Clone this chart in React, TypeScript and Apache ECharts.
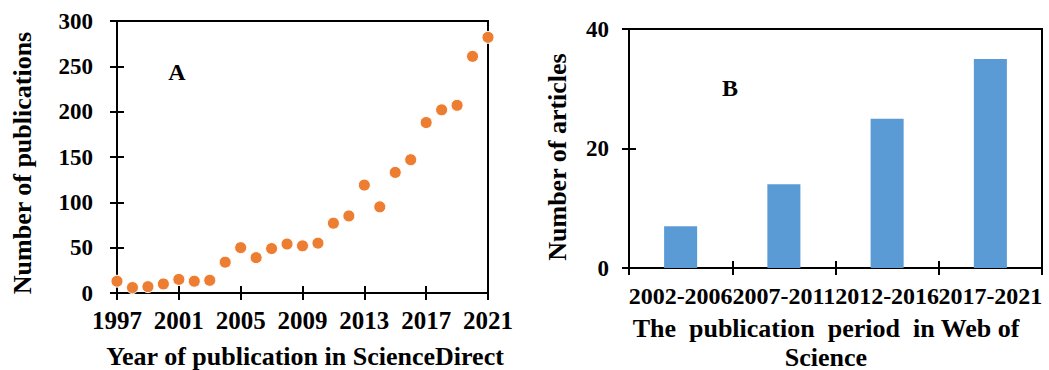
import React, { useEffect, useRef } from "react";
import * as echarts from "echarts";

const years = [
  "1997", "1998", "1999", "2000", "2001", "2002", "2003", "2004", "2005", "2006",
  "2007", "2008", "2009", "2010", "2011", "2012", "2013", "2014", "2015", "2016",
  "2017", "2018", "2019", "2020", "2021",
];
const publications = [
  13, 6, 7, 10, 15, 13, 14, 34, 50, 39,
  49, 54, 52, 55, 77, 85, 119, 95, 133, 147,
  188, 202, 207, 261, 282,
];
const periods = ["2002-2006", "2007-2011", "2012-2016", "2017-2021"];
const articles = [7, 14, 25, 35];

const FONT = "'Liberation Serif', 'Times New Roman', serif";
const ORANGE = "#ED7D31";
const BLUE = "#5B9BD5";

export default function App() {
  const ref = useRef<HTMLDivElement>(null);

  useEffect(() => {
    if (!ref.current) return;
    const chart = echarts.init(ref.current, undefined, { renderer: "svg" });

    const axisLine = { show: true, lineStyle: { color: "#000", width: 2 } };
    const tickStyle = { color: "#000", width: 2 };
    const labelStyle = { color: "#000", fontFamily: FONT, fontWeight: "bold" as const };

    const option: any = {
      animation: false,
      backgroundColor: "#fff",
      grid: [
        { left: 117, right: 561, top: 21, bottom: 77, show: true, borderColor: "#000", borderWidth: 2, backgroundColor: "transparent" },
        { left: 629, right: 7, top: 29, bottom: 102, show: true, borderColor: "#000", borderWidth: 2, backgroundColor: "transparent" },
      ],
      xAxis: [
        {
          gridIndex: 0, type: "category", data: years, boundaryGap: false,
          axisLine,
          axisTick: { show: true, interval: 3, length: 7, inside: false, lineStyle: tickStyle },
          axisLabel: { ...labelStyle, interval: 3, fontSize: 25, margin: 15, hideOverlap: false },
          splitLine: { show: false },
        },
        {
          gridIndex: 0, type: "category", data: years, boundaryGap: false, position: "bottom", offset: 0,
          axisLine: { show: false },
          axisTick: { show: true, interval: 3, length: 7, inside: true, lineStyle: tickStyle },
          axisLabel: { show: false },
          splitLine: { show: false },
        },
        {
          gridIndex: 1, type: "category", data: periods, boundaryGap: true,
          axisLine,
          axisTick: { show: true, length: 7, inside: false, lineStyle: tickStyle },
          axisLabel: { ...labelStyle, interval: 0, fontSize: 24, margin: 16, hideOverlap: false },
          splitLine: { show: false },
        },
        {
          gridIndex: 1, type: "category", data: periods, boundaryGap: true, position: "bottom", offset: 0,
          axisLine: { show: false },
          axisTick: { show: true, length: 7, inside: true, lineStyle: tickStyle },
          axisLabel: { show: false },
          splitLine: { show: false },
        },
      ],
      yAxis: [
        {
          gridIndex: 0, type: "value", min: 0, max: 300, interval: 50,
          axisLine,
          axisTick: { show: true, length: 7, inside: false, lineStyle: tickStyle },
          axisLabel: { ...labelStyle, fontSize: 23, margin: 24 },
          splitLine: { show: false },
        },
        {
          gridIndex: 0, type: "value", min: 0, max: 300, interval: 50, position: "left", offset: 0,
          axisLine: { show: false },
          axisTick: { show: true, length: 7, inside: true, lineStyle: tickStyle },
          axisLabel: { show: false },
          splitLine: { show: false },
        },
        {
          gridIndex: 1, type: "value", min: 0, max: 40, interval: 20,
          axisLine,
          axisTick: { show: true, length: 7, inside: false, lineStyle: tickStyle },
          axisLabel: { ...labelStyle, fontSize: 23, margin: 20 },
          splitLine: { show: false },
        },
        {
          gridIndex: 1, type: "value", min: 0, max: 40, interval: 20, position: "left", offset: 0,
          axisLine: { show: false },
          axisTick: { show: true, length: 7, inside: true, lineStyle: tickStyle },
          axisLabel: { show: false },
          splitLine: { show: false },
        },
      ],
      series: [
        {
          type: "scatter",
          xAxisIndex: 0,
          yAxisIndex: 0,
          data: publications,
          symbol: "circle",
          symbolSize: 12,
          clip: false,
          itemStyle: { color: ORANGE, borderColor: "#fff", borderWidth: 1, opacity: 1 },
        },
        {
          type: "bar",
          xAxisIndex: 2,
          yAxisIndex: 2,
          data: articles,
          barWidth: "32%",
          itemStyle: { color: BLUE },
        },
      ],
      graphic: [
        {
          type: "text", x: 22, y: 163, rotation: Math.PI / 2,
          style: { text: "Number of publications", fontFamily: FONT, fontWeight: "bold", fontSize: 26, fill: "#000", align: "center", verticalAlign: "middle" },
        },
        {
          type: "text", x: 305, y: 356,
          style: { text: "Year of publication in ScienceDirect", fontFamily: FONT, fontWeight: "bold", fontSize: 26, fill: "#000", align: "center", verticalAlign: "middle" },
        },
        {
          type: "text", x: 177, y: 72,
          style: { text: "A", fontFamily: FONT, fontWeight: "bold", fontSize: 24, fill: "#000", align: "center", verticalAlign: "middle" },
        },
        {
          type: "text", x: 557, y: 157, rotation: Math.PI / 2,
          style: { text: "Number of articles", fontFamily: FONT, fontWeight: "bold", fontSize: 26, fill: "#000", align: "center", verticalAlign: "middle" },
        },
        {
          type: "text", x: 826, y: 328,
          style: { text: "The  publication  period  in Web of", fontFamily: FONT, fontWeight: "bold", fontSize: 26, fill: "#000", align: "center", verticalAlign: "middle" },
        },
        {
          type: "text", x: 826, y: 357,
          style: { text: "Science", fontFamily: FONT, fontWeight: "bold", fontSize: 26, fill: "#000", align: "center", verticalAlign: "middle" },
        },
        {
          type: "text", x: 730, y: 88,
          style: { text: "B", fontFamily: FONT, fontWeight: "bold", fontSize: 24, fill: "#000", align: "center", verticalAlign: "middle" },
        },
      ],
    };

    chart.setOption(option);
    return () => {
      chart.dispose();
    };
  }, []);

  return (
    <div
      ref={ref}
      style={{ position: "fixed", left: 0, top: 0, width: 1049, height: 370, background: "#fff" }}
    />
  );
}
